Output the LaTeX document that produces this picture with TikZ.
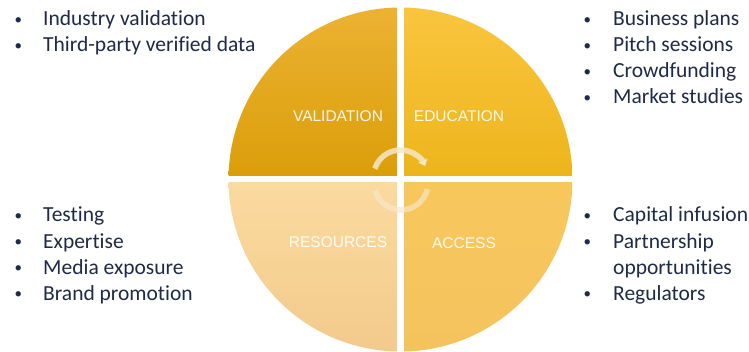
\documentclass[tikz,border=0pt]{standalone}
\usepackage{fontspec}
\setmainfont{Carlito}[Ligatures=NoCommon]
\newfontfamily\labelfont{Liberation Sans}
\usetikzlibrary{arrows.meta}

\definecolor{ink}{HTML}{1E2A47}
\definecolor{valTop}{HTML}{ECB232}
\definecolor{valBot}{HTML}{DB9E0A}
\definecolor{eduTop}{HTML}{F9C53E}
\definecolor{eduBot}{HTML}{EDB51C}
\definecolor{resTop}{HTML}{FBDA9F}
\definecolor{resBot}{HTML}{F2CA8C}
\definecolor{accTop}{HTML}{F8C75C}
\definecolor{accBot}{HTML}{F4C35E}
\definecolor{cycle}{HTML}{F6E7C9}

% small list bullet followed by a fixed indent
\newcommand\dotitem[1]{\makebox[#1][l]{\hspace{2.5pt}\raisebox{1.5pt}{\fontsize{15}{15}\selectfont•}}}

\begin{document}
\begin{tikzpicture}[x=1pt,y=1pt,
  item/.style={anchor=base west, inner sep=0pt, text=ink,
    font=\fontsize{21.5}{26}\selectfont},
  quadlabel/.style={inner sep=0pt, text=white, text opacity=0.92,
    font=\labelfont\fontsize{15.5}{18}\selectfont},
  cycleline/.style={line width=5.5pt, draw=cycle, draw opacity=0.85}]

\useasboundingbox (0,0) rectangle (749,351);
\fill[white] (0,0) rectangle (749,351);

% four quadrants of the wheel, each with its own vertical gradient
\begin{scope}
  \clip (400.5,171.5) circle (172);
  \shade[top color=valTop, bottom color=valBot] (228.5,175) rectangle (397,343.5);
  \shade[top color=eduTop, bottom color=eduBot] (404,175) rectangle (572.5,343.5);
  \shade[top color=resTop, bottom color=resBot] (228.5,-0.5) rectangle (397,168);
  \shade[top color=accTop, bottom color=accBot] (404,-0.5) rectangle (572.5,168);
\end{scope}

% quadrant titles
\node[quadlabel] (val) at (338,235) {VALIDATION};
\node[quadlabel] (edu) at (459,235) {EDUCATION};
\node[quadlabel] (res) at (338,109) {RESOURCES};
\node[quadlabel] (acc) at (464,108) {ACCESS};

% cycle arrows in the middle
\draw[cycleline, -{Triangle[length=6pt,width=10pt]}]
  (400.5,174) ++(162:27) arc (162:24:27);
\draw[cycleline, draw opacity=0.7]
  (401,168) ++(196:27) arc (196:347:27);

% validation list
\node[item] (v1) at (12,325) {\dotitem{31pt}Industry validation};
\node[item] (v2) at (12,299) {\dotitem{31pt}Third-party verified data};

% education list
\node[item] (e1) at (581,325) {\dotitem{32pt}Business plans};
\node[item] (e2) at (581,299) {\dotitem{32pt}Pitch sessions};
\node[item] (e3) at (581,273) {\dotitem{32pt}Crowdfunding};
\node[item] (e4) at (581,247) {\dotitem{32pt}Market studies};

% resources list
\node[item] (r1) at (12,129) {\dotitem{31pt}Testing};
\node[item] (r2) at (12,103) {\dotitem{31pt}Expertise};
\node[item] (r3) at (12,77) {\dotitem{31pt}Media exposure};
\node[item] (r4) at (12,51) {\dotitem{31pt}Brand promotion};

% access list
\node[item] (a1) at (581,129) {\dotitem{32pt}Capital infusion};
\node[item] (a2) at (581,103) {\dotitem{32pt}Partnership};
\node[item] (a3) at (613,77) {opportunities};
\node[item] (a4) at (581,51) {\dotitem{32pt}Regulators};
\end{tikzpicture}
\end{document}
